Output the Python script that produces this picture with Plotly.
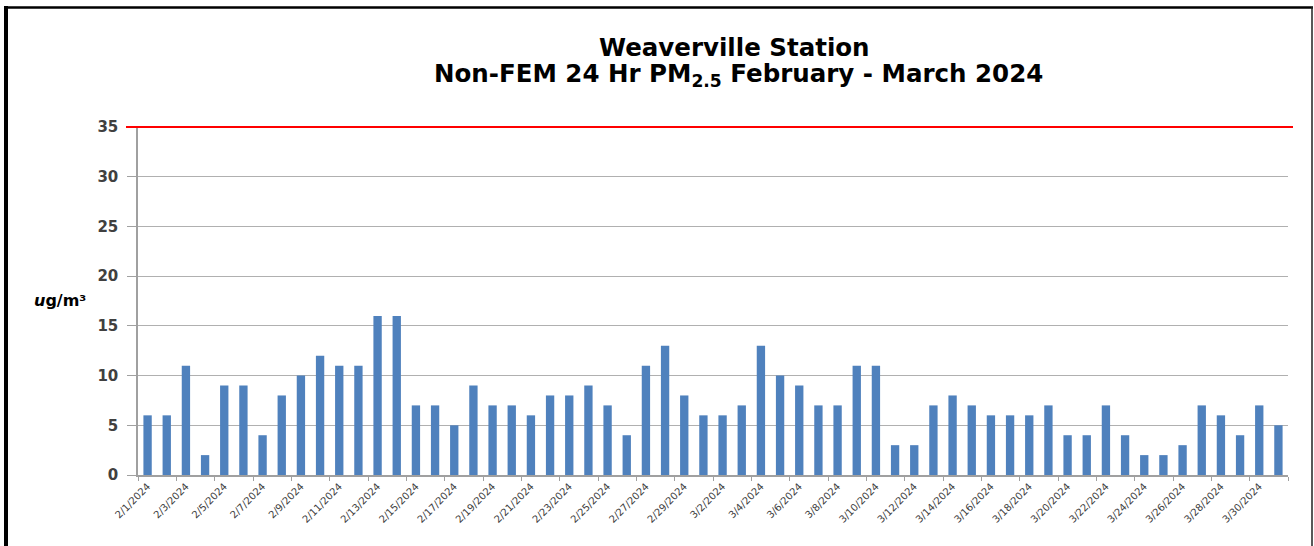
import plotly.graph_objects as go

# ---- data ----
dates = [
    "2024-02-01", "2024-02-02", "2024-02-03", "2024-02-04", "2024-02-05", "2024-02-06",
    "2024-02-07", "2024-02-08", "2024-02-09", "2024-02-10", "2024-02-11", "2024-02-12",
    "2024-02-13", "2024-02-14", "2024-02-15", "2024-02-16", "2024-02-17", "2024-02-18",
    "2024-02-19", "2024-02-20", "2024-02-21", "2024-02-22", "2024-02-23", "2024-02-24",
    "2024-02-25", "2024-02-26", "2024-02-27", "2024-02-28", "2024-02-29", "2024-03-01",
    "2024-03-02", "2024-03-03", "2024-03-04", "2024-03-05", "2024-03-06", "2024-03-07",
    "2024-03-08", "2024-03-09", "2024-03-10", "2024-03-11", "2024-03-12", "2024-03-13",
    "2024-03-14", "2024-03-15", "2024-03-16", "2024-03-17", "2024-03-18", "2024-03-19",
    "2024-03-20", "2024-03-21", "2024-03-22", "2024-03-23", "2024-03-24", "2024-03-25",
    "2024-03-26", "2024-03-27", "2024-03-28", "2024-03-29", "2024-03-30", "2024-03-31",
]
pm25 = [
    6, 6, 11, 2, 9, 9, 4, 8, 10, 12, 11, 11, 16, 16, 7, 7, 5, 9, 7, 7,
    6, 8, 8, 9, 7, 4, 11, 13, 8, 6, 6, 7, 13, 10, 9, 7, 7, 11, 11, 3,
    3, 7, 8, 7, 6, 6, 6, 7, 4, 4, 7, 4, 2, 2, 3, 7, 6, 4, 7, 5,
]
tick_dates = dates[::2]
tick_labels = [
    "2/1/2024", "2/3/2024", "2/5/2024", "2/7/2024", "2/9/2024", "2/11/2024",
    "2/13/2024", "2/15/2024", "2/17/2024", "2/19/2024", "2/21/2024", "2/23/2024",
    "2/25/2024", "2/27/2024", "2/29/2024", "3/2/2024", "3/4/2024", "3/6/2024",
    "3/8/2024", "3/10/2024", "3/12/2024", "3/14/2024", "3/16/2024", "3/18/2024",
    "3/20/2024", "3/22/2024", "3/24/2024", "3/26/2024", "3/28/2024", "3/30/2024",
]
standard = 35
y_range = [0, 35]
y_ticks = [0, 5, 10, 15, 20, 25, 30, 35]

W, H = 1314, 546
L, T, R, B = 138, 127, 26, 71
pw, ph = W - L - R, H - T - B


def px_x(p):
    return (p - L) / pw


def px_y(p):
    return (H - B - p) / ph


std_paper = (standard - y_range[0]) / (y_range[1] - y_range[0])

fig = go.Figure()
fig.add_trace(go.Bar(
    x=dates, y=pm25,
    marker=dict(color="#4F81BD", line=dict(width=0)),
))

shapes = [
    # 24-hr standard line
    dict(type="line", xref="paper", yref="paper", x0=px_x(126), x1=px_x(1293),
         y0=std_paper, y1=std_paper, line=dict(color="#FF0000", width=2), layer="above"),
    # outer frame
    dict(type="line", xref="paper", yref="paper", x0=px_x(6), x1=px_x(6),
         y0=px_y(6), y1=px_y(560), line=dict(color="#000000", width=4)),
    dict(type="line", xref="paper", yref="paper", x0=px_x(4), x1=px_x(1313),
         y0=px_y(7.5), y1=px_y(7.5), line=dict(color="#000000", width=2.5)),
    dict(type="line", xref="paper", yref="paper", x0=px_x(1312), x1=px_x(1312),
         y0=px_y(7), y1=px_y(560), line=dict(color="#222222", width=1.5)),
]

title_font = dict(family="DejaVu Sans", size=24.5, color="#000000", weight="bold")

fig.update_layout(
    width=W, height=H,
    margin=dict(l=L, r=R, t=T, b=B),
    paper_bgcolor="white", plot_bgcolor="white",
    showlegend=False,
    bargap=0.565,
    shapes=shapes,
    annotations=[
        dict(text="Weaverville Station", xref="paper", yref="paper",
             x=px_x(734), y=px_y(47), xanchor="center", yanchor="middle",
             showarrow=False, font=title_font),
        dict(text="Non-FEM 24 Hr PM<sub>2.5</sub> February - March 2024",
             xref="paper", yref="paper",
             x=px_x(738), y=px_y(75), xanchor="center", yanchor="middle",
             showarrow=False, font=title_font),
        dict(text="<i>u</i>g/m³", xref="paper", yref="paper",
             x=px_x(32), y=px_y(300), xanchor="left", yanchor="middle",
             showarrow=False,
             font=dict(family="DejaVu Sans", size=16, color="#000000", weight="bold")),
    ],
    xaxis=dict(
        type="date",
        range=["2024-01-31 12:00", "2024-03-31 12:00"],
        tickvals=tick_dates, ticktext=tick_labels,
        tickangle=-45,
        ticks="",
        tickfont=dict(family="DejaVu Sans", size=10, color="#404040"),
        showline=True, linecolor="#A0A0A0", linewidth=1.5,
        showgrid=False,
        minor=dict(tick0="2024-01-31 12:00", dtick=2 * 86400000,
                   ticks="outside", ticklen=4, tickcolor="#A0A0A0", tickwidth=1),
    ),
    yaxis=dict(
        range=y_range,
        tickvals=y_ticks,
        ticks="outside", ticklen=9, tickcolor="#A0A0A0",
        ticklabelstandoff=6,
        tickfont=dict(family="DejaVu Sans", size=15, color="#404040", weight="bold"),
        showline=True, linecolor="#A0A0A0", linewidth=1.5,
        showgrid=True, gridcolor="#B0B0B0", gridwidth=1,
        zeroline=False,
    ),
)

fig.write_html(
    "out.html",
    config={"displayModeBar": False},
    post_script="document.body.style.margin='0';document.body.style.overflow='hidden';",
)
